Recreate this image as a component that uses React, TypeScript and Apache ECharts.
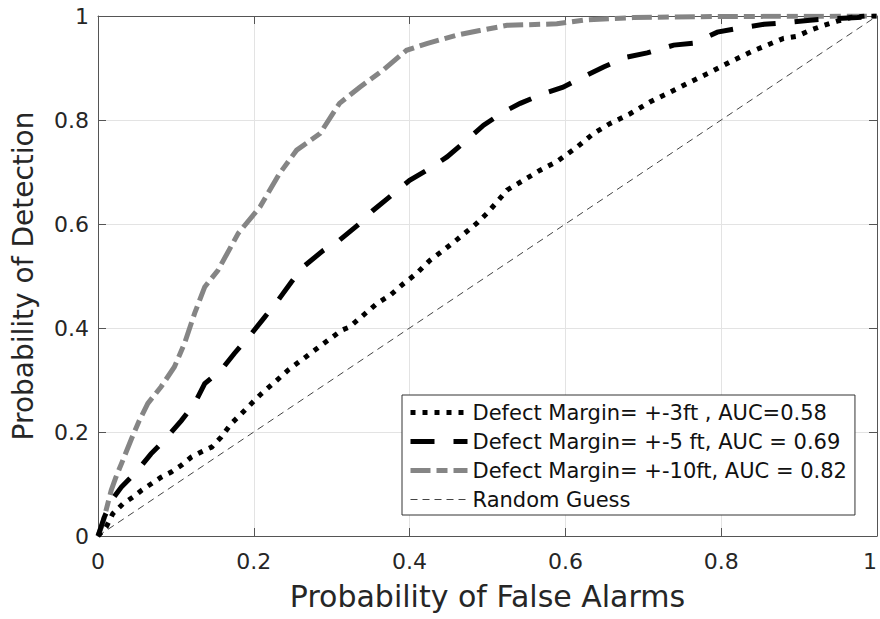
import React, { useEffect, useRef } from "react";
import * as echarts from "echarts";

// Defect Margin = +-3ft (AUC 0.58)
const fpr3 = [0, 0.0105, 0.019, 0.032, 0.045, 0.056, 0.068, 0.081, 0.094, 0.107, 0.12, 0.133, 0.146, 0.158, 0.171, 0.184, 0.197, 0.21, 0.227, 0.244, 0.261, 0.278, 0.295, 0.313, 0.323, 0.34, 0.358, 0.375, 0.392, 0.409, 0.426, 0.443, 0.46, 0.473, 0.486, 0.499, 0.512, 0.525, 0.546, 0.567, 0.589, 0.615, 0.636, 0.657, 0.683, 0.709, 0.735, 0.76, 0.786, 0.812, 0.838, 0.859, 0.88, 0.897, 0.915, 0.932, 0.949, 0.966, 0.985, 1];
const tpr3 = [0, 0.017, 0.043, 0.062, 0.075, 0.088, 0.1, 0.113, 0.123, 0.136, 0.152, 0.162, 0.171, 0.19, 0.216, 0.235, 0.255, 0.274, 0.296, 0.319, 0.338, 0.357, 0.376, 0.396, 0.402, 0.424, 0.447, 0.463, 0.485, 0.505, 0.53, 0.549, 0.569, 0.585, 0.601, 0.62, 0.642, 0.665, 0.684, 0.703, 0.72, 0.748, 0.774, 0.793, 0.812, 0.835, 0.854, 0.873, 0.892, 0.912, 0.931, 0.944, 0.957, 0.961, 0.973, 0.982, 0.99, 0.997, 1.0, 1];

// Defect Margin = +-5ft (AUC 0.69)
const fpr5 = [0, 0.008, 0.018, 0.03, 0.049, 0.068, 0.085, 0.107, 0.124, 0.137, 0.158, 0.175, 0.197, 0.214, 0.231, 0.248, 0.263, 0.289, 0.31, 0.336, 0.353, 0.379, 0.4, 0.426, 0.448, 0.473, 0.495, 0.52, 0.542, 0.572, 0.597, 0.623, 0.649, 0.679, 0.705, 0.739, 0.765, 0.795, 0.82, 0.855, 0.88, 0.914, 0.944, 0.975, 1];
const tpr5 = [0, 0.036, 0.07, 0.094, 0.123, 0.158, 0.184, 0.222, 0.255, 0.293, 0.319, 0.351, 0.389, 0.421, 0.453, 0.488, 0.517, 0.549, 0.569, 0.601, 0.626, 0.658, 0.684, 0.707, 0.729, 0.761, 0.79, 0.815, 0.832, 0.851, 0.863, 0.883, 0.902, 0.921, 0.929, 0.944, 0.948, 0.969, 0.976, 0.984, 0.987, 0.992, 0.995, 0.997, 1];

// Defect Margin = +-10ft (AUC 0.82)
const fpr10 = [0, 0.006, 0.017, 0.023, 0.032, 0.043, 0.053, 0.064, 0.081, 0.098, 0.111, 0.124, 0.137, 0.154, 0.18, 0.208, 0.233, 0.255, 0.285, 0.31, 0.336, 0.366, 0.396, 0.422, 0.46, 0.49, 0.525, 0.589, 0.623, 0.687, 0.795, 1];
const tpr10 = [0, 0.024, 0.088, 0.113, 0.146, 0.187, 0.222, 0.255, 0.287, 0.325, 0.37, 0.428, 0.479, 0.511, 0.582, 0.633, 0.697, 0.742, 0.774, 0.832, 0.863, 0.896, 0.934, 0.947, 0.963, 0.972, 0.982, 0.985, 0.992, 0.997, 0.999, 1];

// Random guess diagonal
const guessX = [0, 1];
const guessY = [0, 1];

const seriesNames = [
  "Defect Margin= +-3ft , AUC=0.58",
  "Defect Margin= +-5 ft, AUC = 0.69",
  "Defect Margin= +-10ft, AUC = 0.82",
  "Random Guess",
];

const xTitle = "Probability of False Alarms";
const yTitle = "Probability of Detection";

const pairs = (xs: number[], ys: number[]) => xs.map((x, i) => [x, ys[i]]);

const FONT = "DejaVu Sans";
const TEXT = "#262626";
const AXIS = "#555555";

export default function App() {
  const ref = useRef<HTMLDivElement>(null);

  useEffect(() => {
    if (!ref.current) return;
    const chart = echarts.init(ref.current, null, { renderer: "svg" });

    const styles = [
      { color: "#000000", width: 5, type: [5, 7] as number[] },
      { color: "#000000", width: 5, type: [24, 19] as number[] },
      { color: "#858585", width: 5, type: [20, 6, 11, 6] as number[] },
      { color: "#444444", width: 1, type: [7, 5] as number[] },
    ];
    const datasets = [
      pairs(fpr3, tpr3),
      pairs(fpr5, tpr5),
      pairs(fpr10, tpr10),
      pairs(guessX, guessY),
    ];

    const baseX = {
      type: "value" as const,
      min: 0,
      max: 1,
      interval: 0.2,
    };

    chart.setOption({
      animation: false,
      backgroundColor: "#ffffff",
      grid: {
        left: 98,
        top: 16,
        right: 3,
        bottom: 83,
        containLabel: false,
        outerBoundsMode: "none",
        show: false,
      },
      xAxis: [
        {
          ...baseX,
          position: "bottom",
          name: xTitle,
          nameLocation: "middle",
          nameGap: 45,
          nameTextStyle: { fontFamily: FONT, fontSize: 30, color: TEXT },
          axisLine: { show: true, onZero: false, lineStyle: { color: AXIS, width: 1 } },
          axisTick: { show: true, inside: true, length: 8, lineStyle: { color: AXIS } },
          axisLabel: { show: true, margin: 14, fontFamily: FONT, fontSize: 22, color: TEXT, alignMaxLabel: "right" },
          splitLine: { show: true, lineStyle: { color: "#e3e3e3", width: 1 } },
        },
        {
          ...baseX,
          position: "top",
          axisLine: { show: true, onZero: false, lineStyle: { color: AXIS, width: 1 } },
          axisTick: { show: true, inside: true, length: 8, lineStyle: { color: AXIS } },
          axisLabel: { show: false },
          splitLine: { show: false },
        },
      ],
      yAxis: [
        {
          ...baseX,
          position: "left",
          name: yTitle,
          nameLocation: "middle",
          nameGap: 61,
          nameTextStyle: { fontFamily: FONT, fontSize: 28, color: TEXT },
          axisLine: { show: true, onZero: false, lineStyle: { color: AXIS, width: 1 } },
          axisTick: { show: true, inside: true, length: 8, lineStyle: { color: AXIS } },
          axisLabel: { show: true, margin: 9, fontFamily: FONT, fontSize: 22, color: TEXT },
          splitLine: { show: true, lineStyle: { color: "#e3e3e3", width: 1 } },
        },
        {
          ...baseX,
          position: "right",
          axisLine: { show: true, onZero: false, lineStyle: { color: AXIS, width: 1 } },
          axisTick: { show: true, inside: true, length: 8, lineStyle: { color: AXIS } },
          axisLabel: { show: false },
          splitLine: { show: false },
        },
      ],
      legend: {
        orient: "vertical",
        left: 402,
        top: 395,
        padding: [7, 8, 5, 6],
        itemWidth: 57,
        itemHeight: 14,
        itemGap: 8,
        backgroundColor: "#ffffff",
        borderColor: "#333333",
        borderWidth: 1,
        borderRadius: 0,
        itemStyle: { opacity: 0, borderWidth: 0 },
        textStyle: { fontFamily: FONT, fontSize: 21, color: "#111111" },
        data: seriesNames.map((name, i) => ({
          name,
          itemStyle: { opacity: 0, borderWidth: 0 },
          lineStyle: { width: styles[i].width, type: styles[i].type, color: styles[i].color, opacity: 1 },
        })),
      },
      series: datasets.map((data, i) => ({
        name: seriesNames[i],
        type: "line",
        xAxisIndex: 0,
        yAxisIndex: 0,
        data,
        symbol: "none",
        showSymbol: false,
        smooth: false,
        z: i === 3 ? 1 : 5 - i,
        lineStyle: {
          color: styles[i].color,
          width: styles[i].width,
          type: styles[i].type,
          cap: "butt",
          join: "miter",
        },
        itemStyle: { color: styles[i].color },
        emphasis: { disabled: true },
      })),
    });

    return () => chart.dispose();
  }, []);

  return (
    <div
      ref={ref}
      style={{ position: "absolute", left: 0, top: 0, width: 880, height: 619, background: "#fff" }}
    />
  );
}
